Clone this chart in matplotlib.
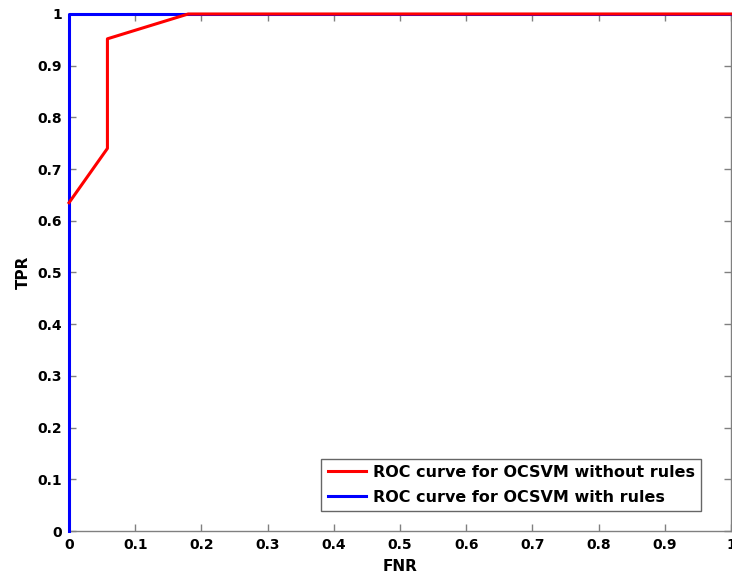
import matplotlib
matplotlib.use("Agg")
import matplotlib.pyplot as plt

# ROC points (FNR, TPR)
fnr_without = [0.0, 0.058, 0.058, 0.18, 1.0]
tpr_without = [0.635, 0.74, 0.952, 1.0, 1.0]
fnr_with = [0.0, 0.0, 1.0]
tpr_with = [0.0, 1.0, 1.0]

label_without = "ROC curve for OCSVM without rules"
label_with = "ROC curve for OCSVM with rules"

ticks = [0, 0.1, 0.2, 0.3, 0.4, 0.5, 0.6, 0.7, 0.8, 0.9, 1]
tick_labels = ["0", "0.1", "0.2", "0.3", "0.4", "0.5", "0.6", "0.7", "0.8", "0.9", "1"]

plt.rcParams["font.family"] = ["DejaVu Sans"]
plt.rcParams["font.weight"] = "bold"

fig = plt.figure(figsize=(7.32, 5.78), dpi=100)
ax = fig.add_axes([0.0943, 0.0813, 0.9043, 0.8945])

ax.plot(fnr_with, tpr_with, color="#0000ff", lw=2.2, label=label_with,
        zorder=3, clip_on=False)
ax.plot(fnr_without, tpr_without, color="#ff0000", lw=2.2, label=label_without,
        zorder=4, clip_on=False)

ax.set_xlim(0, 1)
ax.set_ylim(0, 1)
ax.set_xticks(ticks)
ax.set_xticklabels(tick_labels)
ax.set_yticks(ticks)
ax.set_yticklabels(tick_labels)
ax.tick_params(direction="in", top=True, right=True, length=5, width=1,
               color="#808080", labelsize=10, pad=5)
for s in ax.spines.values():
    s.set_color("#808080")
    s.set_linewidth(1)

ax.set_xlabel("FNR", fontsize=11, fontweight="bold", labelpad=5)
ax.set_ylabel("TPR", fontsize=11, fontweight="bold", labelpad=5)

h, l = ax.get_legend_handles_labels()
leg = ax.legend(h[::-1], l[::-1], loc="lower right", bbox_to_anchor=(0.9547, 0.0387),
                fontsize=11.5, frameon=True, fancybox=False, edgecolor="#404040",
                handlelength=2.4, borderpad=0.4, labelspacing=0.6, handletextpad=0.4,
                borderaxespad=0)
leg.get_frame().set_linewidth(1)
leg.set_zorder(5)

fig.savefig("out.png", dpi=100)
